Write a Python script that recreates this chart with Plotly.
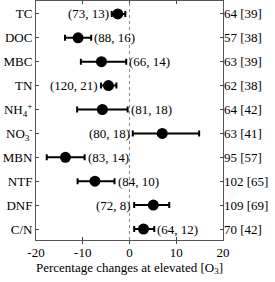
import plotly.graph_objects as go

categories = ["TC", "DOC", "MBC", "TN", "NH<sub>4</sub><sup>+</sup>", "NO<sub>3</sub><sup>-</sup>",
              "MBN", "NTF", "DNF", "C/N"]
means = [-2.5, -11.0, -6.0, -4.5, -5.8, 7.0, -13.7, -7.4, 5.1, 3.0]
err_low = [1.3, 2.8, 4.4, 1.6, 5.4, 6.3, 4.0, 3.7, 4.1, 2.0]
err_high = [1.6, 2.8, 5.3, 1.7, 5.4, 7.9, 4.1, 4.2, 3.4, 2.3]
pair_labels = ["(73, 13)", "(88, 16)", "(66, 14)", "(120, 21)", "(81, 18)", "(80, 18)",
               "(83, 14)", "(84, 10)", "(72, 8)", "(64, 12)"]
label_side = ["left", "right", "right", "left", "right", "left", "right", "right", "left", "right"]
right_labels = ["64 [39]", "57 [38]", "63 [39]", "62 [38]", "64 [42]", "63 [41]",
                "95 [57]", "102 [65]", "109 [69]", "70 [42]"]
x_ticks = [-20, -10, 0, 10, 20]
x_tick_text = ["-20", "-10", "0", "10", "20"]

pos = list(range(len(categories)))
font = dict(family="'Liberation Serif', 'Times New Roman', serif", size=13, color="black")

fig = go.Figure()
fig.add_shape(type="line", x0=0, x1=0, y0=0, y1=1, yref="paper", xref="x",
              line=dict(color="#888888", width=1, dash="dot"))
fig.add_trace(go.Scatter(
    x=means, y=pos, mode="markers",
    marker=dict(color="black", size=11),
    error_x=dict(type="data", symmetric=False, array=err_high, arrayminus=err_low,
                 color="black", thickness=2, width=3),
    showlegend=False, hoverinfo="skip"))
fig.add_trace(go.Scatter(x=[None], y=[None], yaxis="y2", showlegend=False))

for i, (m, lo, hi, lab, side) in enumerate(zip(means, err_low, err_high, pair_labels, label_side)):
    if side == "left":
        fig.add_annotation(x=m - lo, y=i, text=lab, showarrow=False, xanchor="right",
                           xshift=-1, font=font)
    else:
        fig.add_annotation(x=m + hi, y=i, text=lab, showarrow=False, xanchor="left",
                           xshift=1, font=font)

yr = [9.46, -0.54]
fig.update_layout(
    width=275, height=282,
    margin=dict(l=36, r=52, t=1, b=42),
    paper_bgcolor="white", plot_bgcolor="white",
    font=font,
    xaxis=dict(range=[-20, 20], tickvals=x_ticks, ticktext=x_tick_text, ticks="inside", ticklen=3,
               showline=True, linecolor="#555555", linewidth=1, mirror="allticks",
               showgrid=False, zeroline=False,
               title=dict(text="Percentage changes at elevated [O<sub>3</sub>]", standoff=3,
                          font=font)),
    yaxis=dict(range=yr, tickvals=pos, ticktext=categories, ticks="inside", ticklen=3,
               showline=True, linecolor="#555555", linewidth=1, mirror="allticks",
               showgrid=False, zeroline=False),
    yaxis2=dict(range=yr, tickvals=pos, ticktext=right_labels, overlaying="y", side="right",
                ticks="", showline=False, showgrid=False, zeroline=False),
)
fig.write_html("out.html", config={"displayModeBar": False},
               post_script="document.body.style.margin='0';document.body.style.padding='0';")
